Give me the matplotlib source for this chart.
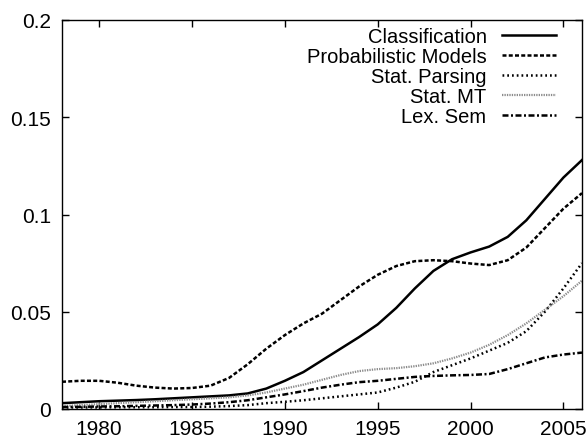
import matplotlib
matplotlib.use("Agg")
import matplotlib.pyplot as plt
import numpy as np

plt.rcParams['font.family'] = ['Liberation Sans', 'DejaVu Sans']

years = np.arange(1978, 2007)

classification = [0.003, 0.0035, 0.004, 0.0043, 0.0046, 0.005, 0.0055, 0.006, 0.0065, 0.007,
                  0.008, 0.0105, 0.0145, 0.019, 0.025, 0.031, 0.037, 0.0435, 0.052, 0.062,
                  0.071, 0.077, 0.0805, 0.0835, 0.0885, 0.097, 0.108, 0.119, 0.128]
prob_models = [0.014, 0.0145, 0.0145, 0.0135, 0.012, 0.011, 0.0105, 0.0108, 0.012, 0.016,
               0.023, 0.031, 0.038, 0.044, 0.049, 0.056, 0.063, 0.069, 0.0735, 0.076,
               0.0765, 0.076, 0.0748, 0.074, 0.0765, 0.083, 0.093, 0.103, 0.111]
stat_parsing = [0.0008, 0.0008, 0.0008, 0.0009, 0.0009, 0.0009, 0.001, 0.001, 0.0012, 0.0015,
                0.002, 0.003, 0.0037, 0.0045, 0.0055, 0.0065, 0.0075, 0.0085, 0.011, 0.014,
                0.019, 0.0225, 0.026, 0.030, 0.034, 0.040, 0.050, 0.062, 0.075]
stat_mt = [0.0015, 0.002, 0.0025, 0.003, 0.0035, 0.004, 0.0045, 0.005, 0.0055, 0.006,
           0.007, 0.0085, 0.0105, 0.0125, 0.015, 0.0175, 0.0195, 0.0205, 0.021, 0.022,
           0.0235, 0.026, 0.029, 0.033, 0.038, 0.044, 0.051, 0.058, 0.066]
lex_sem = [0.001, 0.0011, 0.0013, 0.0014, 0.0016, 0.0018, 0.002, 0.0023, 0.0028, 0.0035,
           0.0045, 0.006, 0.0075, 0.0092, 0.011, 0.0125, 0.0138, 0.0145, 0.0155, 0.0165,
           0.017, 0.0173, 0.0175, 0.018, 0.0205, 0.0235, 0.0265, 0.028, 0.029]

fig = plt.figure(figsize=(5.88, 4.39), dpi=100)
ax = fig.add_axes([62/588, 29/439, 520/588, 389/439])

ax.plot(years, classification, color='black', lw=1.8, label='Classification')
ax.plot(years, prob_models, color='black', lw=1.8, dashes=(1.6, 0.9), label='Probabilistic Models')
ax.plot(years, stat_parsing, color='black', lw=1.8, dashes=(0.7, 1.2), label='Stat. Parsing')
ax.plot(years, stat_mt, color='0.55', lw=1.6, dashes=(0.6, 0.5), label='Stat. MT')
ax.plot(years, lex_sem, color='black', lw=1.8, dashes=(2.4, 1.0, 0.8, 1.0), label='Lex. Sem')

ax.set_xlim(1978, 2006)
ax.set_ylim(0, 0.2)
ax.set_xticks([1980, 1985, 1990, 1995, 2000, 2005])
ax.set_yticks([0, 0.05, 0.1, 0.15, 0.2])
ax.yaxis.set_major_formatter(matplotlib.ticker.FormatStrFormatter('%g'))
ax.tick_params(direction='in', top=True, right=True, length=5, width=1,
               labelsize=15, pad=7)
ax.tick_params(axis='y', pad=8)
for s in ax.spines.values():
    s.set_linewidth(1)

ax.legend(loc='upper right', bbox_to_anchor=(0.95, 0.983), frameon=False,
          markerfirst=False, fontsize=14.5, handlelength=2.7, handletextpad=0.75,
          labelspacing=0.05, borderpad=0, borderaxespad=0)

fig.savefig('out.png', dpi=100)
